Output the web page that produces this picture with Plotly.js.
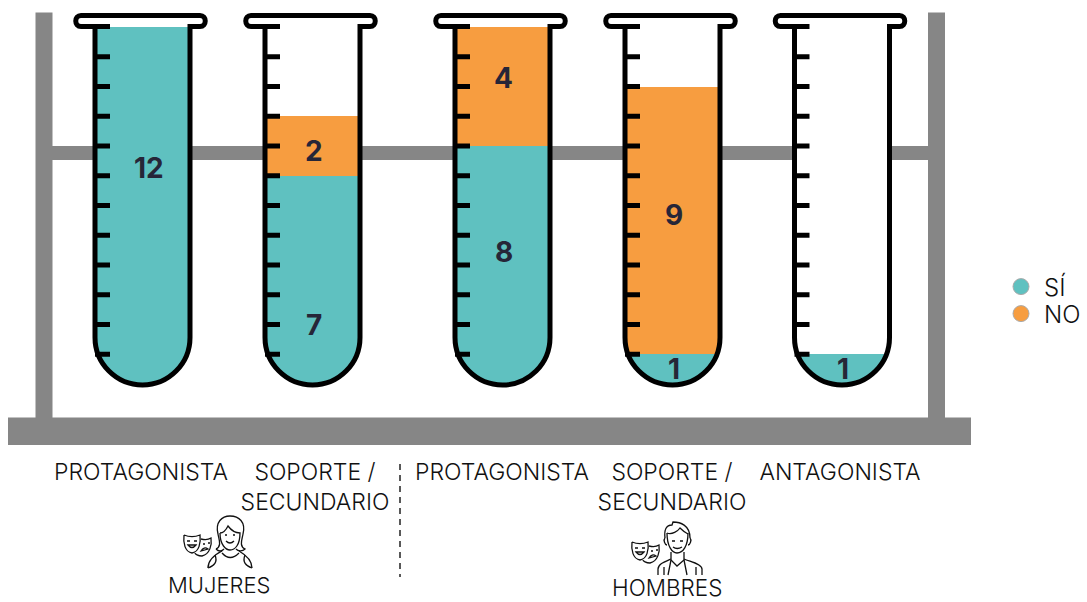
<!DOCTYPE html>
<html><head><meta charset="utf-8">
<script src="https://cdn.plot.ly/plotly-3.0.1.min.js"></script>
<style>html,body{margin:0;padding:0;background:#fff;overflow:hidden}#c{width:1087px;height:602px}</style>
</head><body><div id="c"></div>
<script>
// ---- data ----
const categories = ["PROTAGONISTA", "SOPORTE /<br>SECUNDARIO", "PROTAGONISTA", "SOPORTE /<br>SECUNDARIO", "ANTAGONISTA"];
const groupLabels = ["MUJERES", "HOMBRES"];
const seriesNames = ["SÍ", "NO"];
const valuesSi = [12, 7, 8, 1, 1];
const valuesNo = [0, 2, 4, 9, 0];
const scaleTicks = [1,2,3,4,5,6,7,8,9,10,11,12];

// ---- layout constants (page pixels) ----
const W = 1087, H = 602, Y0 = 384, UNIT = 29.75;
const tubeX = [142.5, 312.5, 502.5, 672.5, 842];
const tickLabelX = [141, 315, 502, 672, 840];
const siLabelPx = [168, 325, 252, 369, 369];
const noLabelPx = [null, 151, 78, 215, null];
const COL_SI = "#5fc1c0", COL_NO = "#f79d40", GREY = "#868686", INK = "#000", NAVY = "#262638", TXT = "#111";
const FONT = "Inter, Lato, sans-serif";
const v = p => (Y0 - p) / UNIT;            // page y -> axis value
const HW = 47.5, K = 0.5523, ARC = 337.5, BOT = 385, TOP = 26.5, RIMT = 15.5;

// path helper: tokens of [cmd, x, y, x, y...] with y in page pixels
function P(str){
  return str.replace(/([MLCQ])([^MLCQZ]*)/g,(m,c,a)=>{
    const n=a.trim().split(/[\s,]+/).map(Number), o=[];
    for(let i=0;i<n.length;i+=2) o.push(n[i]+","+v(n[i+1]));
    return c+o.join(" ")+" ";
  });
}
const shapes = [];
const rect=(x0,x1,p0,p1,c)=>shapes.push({type:"rect",layer:"below",xref:"x",yref:"y",x0,x1,y0:v(p0),y1:v(p1),fillcolor:c,line:{width:0}});
// rack
rect(35.5,52.5,12.5,418,GREY);
rect(928,945,12.5,418,GREY);
rect(52,928,146,160,GREY);
rect(8,971,417.5,445,GREY);
// tubes
tubeX.forEach(c=>{
  const l=c-HW,r=c+HW,a=HW*K;
  const body=`M${l} ${TOP} L${l} ${ARC} C${l} ${ARC+a} ${c-a} ${BOT} ${c} ${BOT} C${c+a} ${BOT} ${r} ${ARC+a} ${r} ${ARC} L${r} ${TOP} Z`;
  shapes.push({type:"path",layer:"below",xref:"x",yref:"y",path:P(body),fillcolor:"#fff",line:{width:0}});
  // corner masks that round the bars' feet
  shapes.push({type:"path",layer:"above",xref:"x",yref:"y",fillcolor:"#fff",line:{width:0},
    path:P(`M${l} ${ARC} C${l} ${ARC+a} ${c-a} ${BOT} ${c} ${BOT} C${c+a} ${BOT} ${r} ${ARC+a} ${r} ${ARC} L${r+1} ${BOT+1} L${l-1} ${BOT+1} Z`)});
  // outline with rim
  const rl=c-66.5, rr=c+62.5;
  shapes.push({type:"path",layer:"above",xref:"x",yref:"y",line:{color:INK,width:5},
    path:P(`M${l+15} ${TOP} L${rl+5} ${TOP} C${rl-2} ${TOP} ${rl-2} ${RIMT} ${rl+5} ${RIMT} L${rr-5} ${RIMT} C${rr+2} ${RIMT} ${rr+2} ${TOP} ${rr-5} ${TOP} L${r} ${TOP} L${r} ${ARC} C${r} ${ARC+a} ${c+a} ${BOT} ${c} ${BOT} C${c-a} ${BOT} ${l} ${ARC+a} ${l} ${ARC} L${l} ${TOP}`)});
  // graduation marks
  scaleTicks.slice(0,-1).forEach(t=>shapes.push({type:"line",layer:"above",xref:"x",yref:"y",x0:l,x1:l+15,y0:t,y1:t,line:{color:INK,width:5}}));
});
// dashed divider
shapes.push({type:"line",layer:"above",xref:"x",yref:"y",x0:400,x1:400,y0:v(464),y1:v(577),line:{color:"#222",width:1.5,dash:"6px,5px"}});

// icons (thin line drawings)
const icon=(d)=>shapes.push({type:"path",layer:"above",xref:"x",yref:"y",path:P(d),line:{color:"#111",width:1.3}});
function masks(x,y){
  icon(`M${x} ${y} C${x+5} ${y+2} ${x+11} ${y+2} ${x+16} ${y} C${x+17} ${y+8} ${x+15} ${y+17} ${x+8} ${y+18} C${x+1} ${y+17} ${x-1} ${y+8} ${x} ${y}`);
  icon(`M${x+3} ${y+6} L${x+6} ${y+6} M${x+10} ${y+6} L${x+13} ${y+6}`);
  icon(`M${x+4} ${y+10} Q${x+8} ${y+15} ${x+12} ${y+10} Z`);
  icon(`M${x+17} ${y+4} C${x+21} ${y+5} ${x+24} ${y+5} ${x+27} ${y+3} C${x+28} ${y+10} ${x+26} ${y+19} ${x+18} ${y+21} C${x+14} ${y+21} ${x+11} ${y+19} ${x+11} ${y+18}`);
  icon(`M${x+19} ${y+9} L${x+21} ${y+9} M${x+24} ${y+8} L${x+26} ${y+8}`);
  icon(`M${x+17} ${y+16} Q${x+20} ${y+11} ${x+24} ${y+14} Z`);
}
masks(184,535);
// woman
icon("M216 549 C222 546 219 540 218 534 C215 522 222 516 230 516 C239 516 246 522 243 534 C242 540 239 546 245 549 C242 552 238 551 236 549");
icon("M224 549 C222 551 219 552 216 549");
icon("M220 533 C220 545 226 550 230 550 C235 550 240 545 240 533 C236 533 231 530 228 526 C226 530 223 533 220 533");
icon("M225 535 L227 535 M233 535 L235 535 M226 541 Q230 545 234 541");
icon("M222 553 Q230 562 239 553");
icon("M208 568 C208 560 214 555 222 551 M252 568 C252 560 246 555 239 551");
icon("M208 568 C214 566 218 562 215 555 M252 568 C246 566 242 562 245 555");
masks(632,542);
// man
icon("M665 538 C664 530 666 525 672 525 L673 522 C680 522 690 525 690 538");
icon("M667 533 C672 535 678 531 680 528 C683 531 686 533 688 534");
icon("M667 533 C667 546 672 553 677 553 C683 553 688 546 688 533");
icon("M665 538 C663 540 665 545 667 545 M690 538 C692 540 690 545 688 545");
icon("M672 541 L675 541 M680 541 L683 541 M673 547 Q677 550 682 547");
icon("M671 552 L671 560 L677 566 L684 560 L684 552");
icon("M658 575 L658 569 C658 564 664 562 671 559 M702 575 L702 569 C702 564 691 562 684 559");
icon("M664 575 L664 567 M696 575 L696 567 M671 560 L668 575 M684 560 L687 575");

// ---- traces ----
const hover = categories.map((c,i)=>c.replace("<br>"," ")+" · "+(i<2?groupLabels[0]:groupLabels[1]));
const data = [
  {type:"bar",x:tubeX,y:valuesSi,width:95,marker:{color:COL_SI,line:{width:0}},name:seriesNames[0],showlegend:false,text:hover,textposition:"none",hovertemplate:"%{text}: %{y}<extra>SÍ</extra>"},
  {type:"bar",x:tubeX,y:valuesNo,width:95,marker:{color:COL_NO,line:{width:0}},name:seriesNames[1],showlegend:false,text:hover,textposition:"none",hovertemplate:"%{text}: %{y}<extra>NO</extra>"},
  {type:"scatter",mode:"markers",x:[null],y:[null],name:seriesNames[0],legend:"legend",marker:{color:COL_SI,size:16,line:{color:"#aaa",width:1}},hoverinfo:"skip"},
  {type:"scatter",mode:"markers",x:[null],y:[null],name:seriesNames[1],legend:"legend2",marker:{color:COL_NO,size:16,line:{color:"#aaa",width:1}},hoverinfo:"skip"}
];

// ---- value + group labels ----
const annotations = [];
const num=(x,p,t)=>annotations.push({xref:"x",yref:"y",x,y:v(p),text:String(t),showarrow:false,font:{family:FONT,size:28,color:NAVY,weight:700}});
tubeX.forEach((x,i)=>{
  num(x+(i===0?6:1),siLabelPx[i],valuesSi[i]);
  if(valuesNo[i]>0) num(x+1,noLabelPx[i],valuesNo[i]);
});
annotations.push({xref:"x",yref:"y",x:219,y:v(585),text:groupLabels[0],showarrow:false,font:{family:FONT,size:22,color:TXT,weight:300}});
annotations.push({xref:"x",yref:"y",x:667,y:v(587),text:groupLabels[1],showarrow:false,font:{family:FONT,size:22.5,color:TXT,weight:300}});

const legendBase = {xanchor:"left",yanchor:"middle",bgcolor:"rgba(0,0,0,0)",borderwidth:0,itemwidth:36,
    font:{family:FONT,size:24,color:TXT,weight:300}};
const layout = {
  width:W,height:H,margin:{l:0,r:0,t:0,b:0,pad:0},paper_bgcolor:"#fff",plot_bgcolor:"#fff",
  barmode:"stack",bargap:0,
  xaxis:{range:[0,W],domain:[0,1],anchor:"free",position:1-456/H,tickmode:"array",tickvals:tickLabelX,ticktext:categories,
    tickangle:0,ticks:"",showgrid:false,zeroline:false,showline:false,automargin:false,
    tickfont:{family:FONT,size:23,color:TXT,weight:300}},
  yaxis:{range:[v(H),v(0)],domain:[0,1],visible:false,showgrid:false,zeroline:false,fixedrange:true},
  showlegend:true,
  legend:Object.assign({},legendBase,{x:998/W,y:1-287/H}),
  legend2:Object.assign({},legendBase,{x:998/W,y:1-314/H}),
  shapes,annotations
};
Plotly.newPlot("c",data,layout,{displayModeBar:false,staticPlot:true});
</script></body></html>
